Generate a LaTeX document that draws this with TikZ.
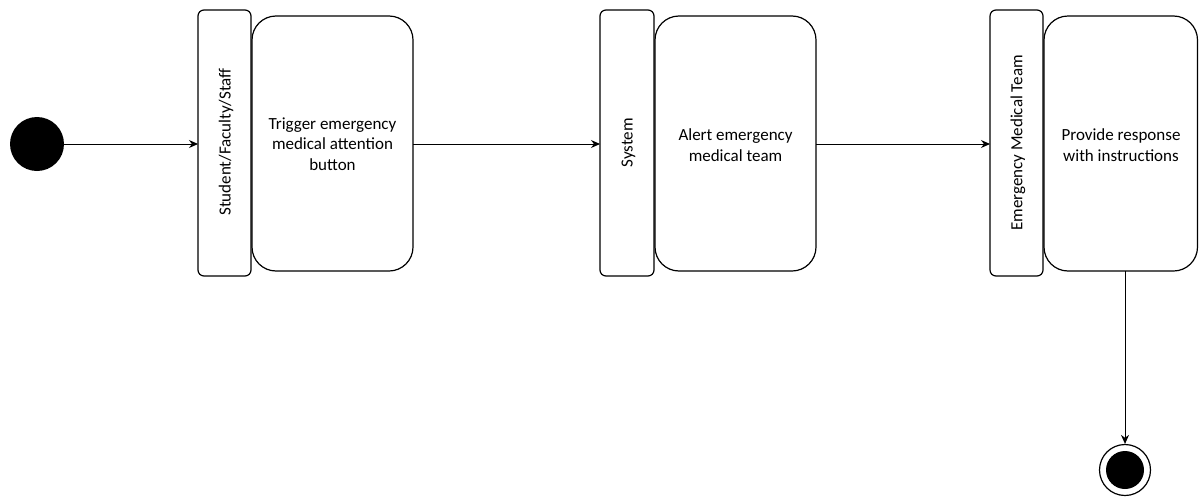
\documentclass[tikz,border=0pt]{standalone}
\usepackage{fontspec}
\setmainfont{Carlito}
\usetikzlibrary{arrows.meta}
\begin{document}
\begin{tikzpicture}[x=1pt,y=-1pt,
  lane/.style={draw,line width=1.2pt,rounded corners=6pt},
  action/.style={draw,line width=1.2pt,rounded corners=24pt},
  lbl/.style={font=\fontsize{17}{20.5}\selectfont,align=center},
  flow/.style={line width=1pt,-{Stealth[length=9pt,width=8pt]}}]
\useasboundingbox (0,0) rectangle (1199,498);
% start node
\node[circle,fill=black,minimum size=54pt,inner sep=0pt] (start) at (37,144) {};
% lanes and actions
\draw[lane] (198,10) rectangle (251,276);
\node[lbl,rotate=90] (l1) at (226,142) {Student/Faculty/Staff};
\draw[action] (252,16) rectangle (413,271);
\node[lbl] (a1) at (332.5,144) {Trigger emergency\\medical attention\\button};
\draw[lane] (600,10) rectangle (654,276);
\node[lbl,rotate=90] (l2) at (628.5,143) {System};
\draw[action] (655,16) rectangle (816,271);
\node[lbl] (a2) at (735.5,145) {Alert emergency\\medical team};
\draw[lane] (990,10) rectangle (1043,276);
\node[lbl,rotate=90] (l3) at (1018,143) {Emergency Medical Team};
\draw[action] (1044,16) rectangle (1197.5,271);
\node[lbl] (a3) at (1121,145) {Provide response\\with instructions};
% anchor points on box edges
\coordinate (lane1w) at (198,144);
\coordinate (act1e) at (413,144);
\coordinate (lane2w) at (600,144);
\coordinate (act2e) at (816,144);
\coordinate (lane3w) at (990,144);
\coordinate (act3s) at (1125,271);
% end node
\node[circle,draw,line width=1.2pt,minimum size=51pt,inner sep=0pt] (end) at (1125,470) {};
\node[circle,fill=black,minimum size=38pt,inner sep=0pt] (endin) at (end) {};
% connectors
\draw[flow] (start) -- (lane1w);
\draw[flow] (act1e) -- (lane2w);
\draw[flow] (act2e) -- (lane3w);
\draw[flow] (act3s) -- (end);
\end{tikzpicture}
\end{document}
